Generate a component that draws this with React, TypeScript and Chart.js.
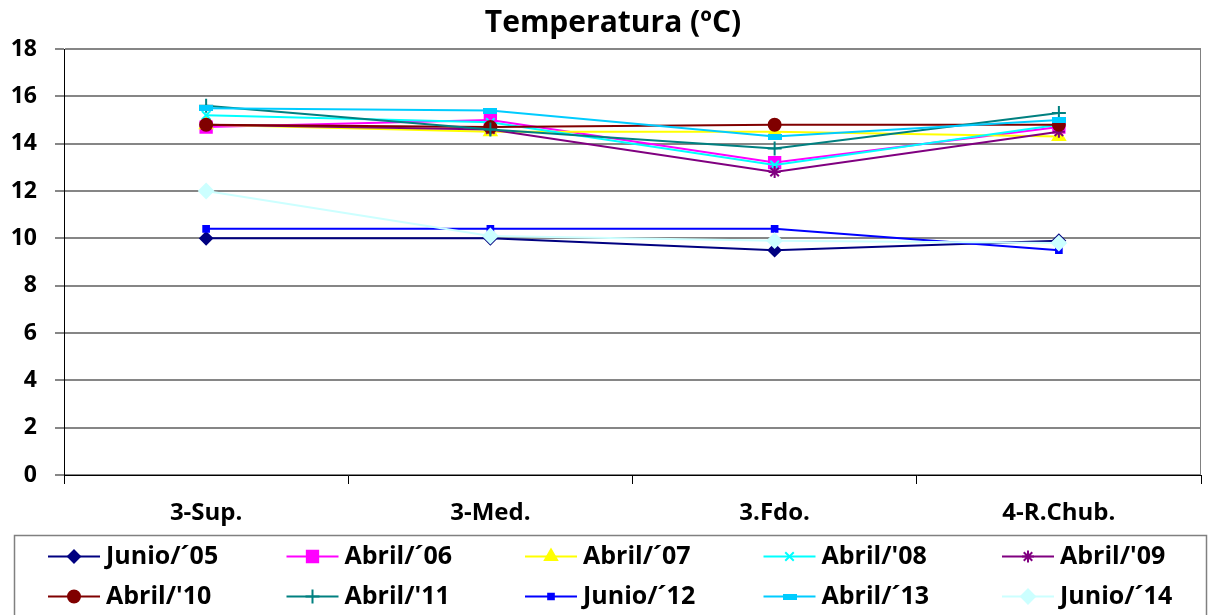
import React, { useEffect, useRef } from 'react';
import { Chart, registerables } from 'chart.js';
import { drawPoint } from 'chart.js/helpers';

Chart.register(...registerables);

const categories = ['3-Sup.', '3-Med.', '3.Fdo.', '4-R.Chub.'];
const seriesNames = ['Junio/´05', 'Abril/´06', 'Abril/´07', "Abril/'08", "Abril/'09", "Abril/'10", "Abril/'11", 'Junio/´12', 'Abril/´13', 'Junio/´14'];

const junio05 = [10.0, 10.0, 9.5, 9.9];
const abril06 = [14.7, 15.0, 13.2, 14.7];
const abril07 = [14.8, 14.5, 14.5, 14.3];
const abril08 = [15.2, 14.9, 13.1, 14.8];
const abril09 = [14.8, 14.6, 12.8, 14.5];
const abril10 = [14.8, 14.7, 14.8, 14.8];
const abril11 = [15.6, 14.6, 13.8, 15.3];
const junio12 = [10.4, 10.4, 10.4, 9.5];
const abril13 = [15.5, 15.4, 14.3, 15.0];
const junio14 = [12.0, 10.1, 9.9, 9.8];

const seriesValues = [junio05, abril06, abril07, abril08, abril09, abril10, abril11, junio12, abril13, junio14];

const yMin = 0;
const yMax = 18;
const yStep = 2;

const colors = ['#000080', '#FF00FF', '#FFFF00', '#00FFFF', '#800080', '#800000', '#008080', '#0000FF', '#00CCFF', '#CCFFFF'];
const FONT = '"Open Sans", "DejaVu Sans", sans-serif';

function dashMarker(color: string) {
  const c = document.createElement('canvas');
  c.width = 14;
  c.height = 6;
  const cx = c.getContext('2d')!;
  cx.fillStyle = color;
  cx.fillRect(0, 0, 14, 6);
  return c;
}

export default function App() {
  const ref = useRef<HTMLCanvasElement | null>(null);

  useEffect(() => {
    document.body.style.margin = '0';
    const dash = dashMarker(colors[8]);
    const styles: any[] = [
      { pointStyle: 'rectRot', radius: 6 },
      { pointStyle: 'rect', radius: 8 },
      { pointStyle: 'triangle', radius: 7 },
      { pointStyle: 'crossRot', radius: 6 },
      { pointStyle: 'star', radius: 6 },
      { pointStyle: 'circle', radius: 6 },
      { pointStyle: 'cross', radius: 7 },
      { pointStyle: 'rect', radius: 4 },
      { pointStyle: dash, radius: 6 },
      { pointStyle: 'rectRot', radius: 7 },
    ];

    const datasets = seriesValues.map((vals, i) => ({
      label: seriesNames[i],
      data: vals,
      borderColor: colors[i],
      backgroundColor: colors[i],
      pointBackgroundColor: colors[i],
      pointBorderColor: colors[i],
      pointStyle: styles[i].pointStyle,
      pointRadius: styles[i].radius,
      pointBorderWidth: 2,
      borderWidth: 2,
      tension: 0,
      fill: false,
      order: 20 - i,
    }));

    const titlePlugin = {
      id: 'titleDraw',
      afterDraw(chart: any) {
        const ctx = chart.ctx;
        ctx.save();
        ctx.font = `bold 30px ${FONT}`;
        ctx.fillStyle = '#000';
        ctx.textAlign = 'center';
        ctx.textBaseline = 'middle';
        ctx.fillText('Temperatura (ºC)', 613, 23);
        ctx.restore();
      },
    };

    const framePlugin = {
      id: 'frameDraw',
      afterDraw(chart: any) {
        const { ctx, chartArea } = chart;
        ctx.save();
        ctx.strokeStyle = '#808080';
        ctx.lineWidth = 1;
        ctx.beginPath();
        ctx.moveTo(Math.round(chartArea.right) - 0.5, chartArea.top);
        ctx.lineTo(Math.round(chartArea.right) - 0.5, chartArea.bottom);
        ctx.stroke();
        ctx.restore();
      },
    };

    const legendPlugin = {
      id: 'legendDraw',
      afterDraw(chart: any) {
        const ctx = chart.ctx;
        ctx.save();
        ctx.strokeStyle = '#808080';
        ctx.lineWidth = 1.5;
        ctx.strokeRect(14.5, 535.5, 1192, 100);
        for (let i = 0; i < seriesNames.length; i++) {
          const col = i % 5;
          const row = Math.floor(i / 5);
          const x0 = 48 + col * 238.5;
          const y = 556.5 + row * 40;
          ctx.strokeStyle = colors[i];
          ctx.lineWidth = 2;
          ctx.beginPath();
          ctx.moveTo(x0, y);
          ctx.lineTo(x0 + 52, y);
          ctx.stroke();
          ctx.fillStyle = colors[i];
          ctx.strokeStyle = colors[i];
          drawPoint(ctx, { pointStyle: styles[i].pointStyle, radius: styles[i].radius, borderWidth: 2, rotation: 0 } as any, x0 + 26, y);
          ctx.fillStyle = '#000';
          ctx.font = `bold 25px ${FONT}`;
          ctx.textAlign = 'left';
          ctx.textBaseline = 'middle';
          ctx.fillText(seriesNames[i], x0 + 58, y);
        }
        ctx.restore();
      },
    };

    const chart = new Chart(ref.current!, {
      type: 'line',
      data: { labels: categories, datasets },
      plugins: [titlePlugin, framePlugin, legendPlugin],
      options: {
        animation: false,
        responsive: false,
        maintainAspectRatio: false,
        layout: { padding: { left: 0, right: 4, top: 49, bottom: 80 } },
        plugins: {
          legend: { display: false },
          title: { display: false },
          tooltip: { enabled: false },
        },
        scales: {
          x: {
            type: 'category',
            offset: true,
            grid: { offset: true, drawOnChartArea: false, drawTicks: true, tickLength: 9, color: '#000', lineWidth: 1 },
            border: { display: true, color: '#000', width: 1 },
            ticks: { color: '#000', font: { family: FONT, size: 24, weight: 'bold' }, padding: 15, maxRotation: 0 },
            afterFit: (s: any) => { s.height = 60; },
          },
          y: {
            min: yMin,
            max: yMax,
            ticks: { stepSize: yStep, color: '#000', font: { family: FONT, size: 23, weight: 'bold' }, padding: 18 },
            grid: { color: '#868686', lineWidth: 2, tickLength: 9, drawTicks: true },
            border: { display: true, color: '#000', width: 1 },
            afterFit: (s: any) => { s.width = 64; },
          },
        },
      },
    });
    return () => chart.destroy();
  }, []);

  return (
    <div style={{ width: 1211, height: 615 }}>
      <canvas ref={ref} width={1211} height={615} style={{ display: 'block' }} />
    </div>
  );
}
